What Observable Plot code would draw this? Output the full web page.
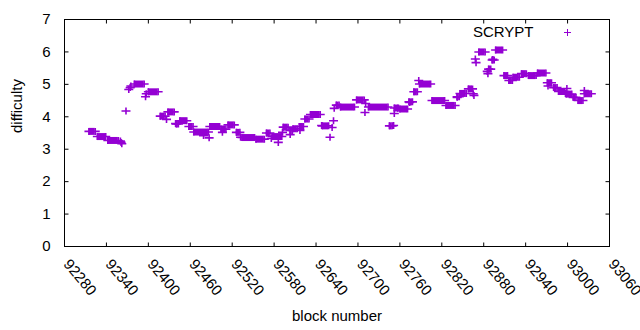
<!DOCTYPE html>
<html>
<head>
<meta charset="utf-8">
<script src="https://cdn.jsdelivr.net/npm/d3@7"></script>
<script src="https://cdn.jsdelivr.net/npm/@observablehq/plot@0.6"></script>
<style>
  html, body { margin: 0; padding: 0; background: #fff; }
  svg { font-family: "Liberation Sans", Arial, sans-serif; }
</style>
</head>
<body>
<div id="chart"></div>
<script>
// Runs of constant difficulty (first block, last block, difficulty)
const runStart = [92315, 92327, 92342, 92380, 92400, 92417, 92428, 92440, 92445, 92458, 92465, 92488, 92504, 92514, 92526, 92534, 92554, 92569, 92577, 92593, 92603, 92607, 92616, 92624, 92632, 92649, 92669, 92675, 92698, 92715, 92745, 92752, 92760, 92773, 92780, 92788, 92806, 92826, 92842, 92846, 92858, 92873, 92887, 92892, 92897, 92909, 92916, 92922, 92934, 92944, 92957, 92971, 92980, 92987, 92998, 93008, 93015, 93024];
const runEnd = [92324, 92339, 92357, 92394, 92414, 92424, 92437, 92443, 92455, 92464, 92486, 92502, 92511, 92523, 92531, 92552, 92566, 92574, 92591, 92600, 92606, 92613, 92622, 92630, 92646, 92658, 92673, 92695, 92709, 92743, 92749, 92758, 92771, 92778, 92785, 92804, 92824, 92839, 92845, 92855, 92864, 92882, 92890, 92895, 92907, 92914, 92921, 92931, 92941, 92955, 92969, 92977, 92985, 92996, 93006, 93012, 93022, 93034];
const runValue = [3.55, 3.39, 3.27, 5.01, 4.77, 4.02, 4.15, 3.78, 3.88, 3.70, 3.53, 3.70, 3.62, 3.75, 3.52, 3.36, 3.31, 3.50, 3.39, 3.68, 3.58, 3.63, 3.70, 3.93, 4.07, 3.72, 4.36, 4.30, 4.52, 4.30, 3.72, 4.27, 4.24, 4.46, 4.77, 5.01, 4.50, 4.35, 4.62, 4.72, 4.86, 6.00, 5.47, 5.75, 6.06, 5.27, 5.12, 5.22, 5.33, 5.27, 5.35, 5.05, 4.90, 4.78, 4.70, 4.60, 4.50, 4.71];

// Isolated blocks
const singleBlock = [92360, 92361, 92362, 92368, 92372, 92374, 92375, 92396, 92397, 92426, 92439, 92479, 92487, 92506, 92532, 92576, 92586, 92592, 92603, 92617, 92648, 92660, 92663, 92665, 92666, 92710, 92711, 92751, 92752, 92757, 92774, 92787, 92842, 92865, 92866, 92868, 92869, 92885, 92886, 92893, 92972, 92997, 92999, 93024];
const singleValue = [3.25, 3.21, 3.17, 4.18, 4.84, 4.90, 4.95, 4.62, 4.71, 3.92, 3.79, 3.42, 3.35, 3.52, 3.37, 3.33, 3.21, 3.52, 3.45, 3.58, 3.73, 3.37, 3.67, 3.88, 4.26, 4.13, 4.41, 3.73, 4.10, 4.26, 4.44, 5.12, 4.60, 4.71, 4.66, 5.78, 5.67, 5.40, 5.33, 5.77, 4.95, 4.72, 4.87, 4.81];

const xTicks = [92280, 92340, 92400, 92460, 92520, 92580, 92640, 92700, 92760, 92820, 92880, 92940, 93000, 93060];
const yTicks = [0, 1, 2, 3, 4, 5, 6, 7];
const seriesName = "SCRYPT";

const runs = runStart.map((s, i) => ({start: s, end: runEnd[i], value: runValue[i]}));
const points = [
  ...runs.flatMap(r => [{block: r.start, value: r.value}, {block: r.end, value: r.value}]),
  ...singleBlock.map((b, i) => ({block: b, value: singleValue[i]}))
];

const color = "#9400d3";
const plus = {draw(c) { c.moveTo(-4.5, 0); c.lineTo(4.5, 0); c.moveTo(0, -3.5); c.lineTo(0, 3.5); }};
const plusSmall = {draw(c) { c.moveTo(-3.5, 0); c.lineTo(3.5, 0); c.moveTo(0, -3.5); c.lineTo(0, 3.5); }};
const tickUp = {draw(c) { c.moveTo(0, 0); c.lineTo(0, -4); }};
const tickDown = {draw(c) { c.moveTo(0, 0); c.lineTo(0, 4); }};
const tickRight = {draw(c) { c.moveTo(0, 0); c.lineTo(4, 0); }};
const tickLeft = {draw(c) { c.moveTo(0, 0); c.lineTo(-4, 0); }};

const chart = Plot.plot({
  width: 640,
  height: 330,
  marginLeft: 64,
  marginRight: 31,
  marginTop: 19,
  marginBottom: 84,
  style: {fontFamily: "'Liberation Sans', Arial, sans-serif", fontSize: "15px", color: "#000"},
  x: {domain: [92280, 93060], axis: null},
  y: {domain: [0, 7], axis: null},
  marks: [
    // ticks (inward, mirrored)
    Plot.dot(xTicks.slice(1, -1), {x: d => d, y: () => 0, symbol: tickUp, stroke: "black", fill: "none", strokeWidth: 1}),
    Plot.dot(xTicks.slice(1, -1), {x: d => d, y: () => 7, symbol: tickDown, stroke: "black", fill: "none", strokeWidth: 1}),
    Plot.dot(yTicks.slice(1, -1), {y: d => d, x: () => 92280, symbol: tickRight, stroke: "black", fill: "none", strokeWidth: 1}),
    Plot.dot(yTicks.slice(1, -1), {y: d => d, x: () => 93060, symbol: tickLeft, stroke: "black", fill: "none", strokeWidth: 1}),
    Plot.frame({stroke: "black", strokeWidth: 1}),
    // y tick labels
    Plot.text(yTicks, {y: d => d, frameAnchor: "left", text: d => String(d), textAnchor: "end", dx: -14, fontSize: 15, fill: "black"}),
    // x tick labels
    Plot.text(xTicks, {x: d => d, frameAnchor: "bottom", text: d => String(d), textAnchor: "start", lineAnchor: "middle", rotate: 50, dx: 2, dy: 15, fontSize: 15, fill: "black"}),
    // axis titles
    Plot.text(["block number"], {frameAnchor: "bottom", text: d => d, lineAnchor: "middle", dy: 70, fontSize: 15, fill: "black"}),
    Plot.text(["difficulty"], {frameAnchor: "left", text: d => d, rotate: -90, dx: -47, fontSize: 15, fill: "black"}),
    // data
    Plot.ruleY(runs, {y: "value", x1: "start", x2: "end", stroke: color, strokeWidth: 7}),
    Plot.dot(points, {x: "block", y: "value", symbol: plus, stroke: color, fill: "none", strokeWidth: 1.6}),
    // legend
    Plot.text([seriesName], {frameAnchor: "top-right", text: d => d, textAnchor: "end", lineAnchor: "middle", dx: -76, dy: 13, fontSize: 15, fill: "black"}),
    Plot.dot([seriesName], {frameAnchor: "top-right", dx: -42, dy: 13, symbol: plusSmall, stroke: color, fill: "none", strokeWidth: 1})
  ]
});
document.getElementById("chart").appendChild(chart);
</script>
</body>
</html>
